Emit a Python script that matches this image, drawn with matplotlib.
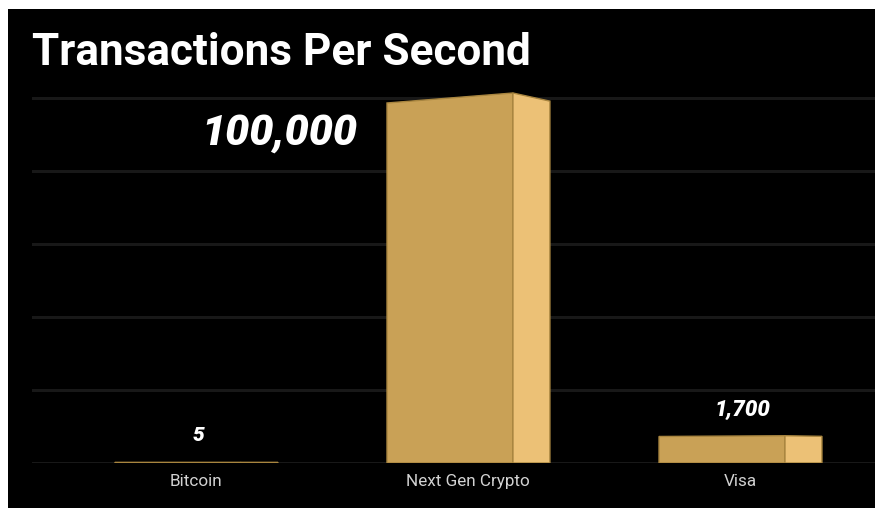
import matplotlib
matplotlib.use("Agg")
import matplotlib.pyplot as plt
from matplotlib.patches import Rectangle, Polygon
import numpy as np

categories = ["Bitcoin", "Next Gen Crypto", "Visa"]
values = [5, 100000, 1700]
value_labels = ["5", "100,000", "1,700"]
title = "Transactions Per Second"

P = 0.64
fwd = lambda v: np.sign(v) * np.abs(v) ** P
inv = lambda t: np.sign(t) * np.abs(t) ** (1.0 / P)

W, H = 875, 508
fig = plt.figure(figsize=(W / 100, H / 100), dpi=100, facecolor="white")
fig.patches.append(Rectangle((8 / W, -0.01), 1.02, 1.01 - 9 / H, transform=fig.transFigure,
                             facecolor="black", edgecolor="none", zorder=-5))

base_px = 463
top_px = 85
ax = fig.add_axes([32 / W, (H - base_px) / H, 1 - 32 / W, (base_px - top_px) / H])
ax.set_zorder(2)
ax.set_facecolor("none")
ax.set_yscale("function", functions=(fwd, inv))
tmax = fwd(max(values))
px_per_t = 370 / tmax
ax.set_ylim(0, inv((base_px - top_px) / px_per_t))
ax.set_xlim(-0.603, 2.496)

for s in ax.spines.values():
    s.set_visible(False)
ax.set_yticks([])
ax.minorticks_off()

# gridlines
for k in range(6):
    ax.axhline(inv(k * 73 / px_per_t), color="#181818", lw=2.2, zorder=1)

front_c = "#c9a156"
side_c = "#ecc176"
edge_c = "#a8853f"
fl, fr, sr = -0.298, 0.165, 0.301

for i, v in enumerate(values):
    t = fwd(v)
    tl = inv(t * 0.973)
    tsr = inv(t * 0.978)
    front = Polygon([(i + fl, 0), (i + fr, 0), (i + fr, v), (i + fl, tl)], closed=True,
                    facecolor=front_c, edgecolor=edge_c, lw=1.0, zorder=3)
    side = Polygon([(i + fr, 0), (i + sr, 0), (i + sr, tsr), (i + fr, v)], closed=True,
                   facecolor=side_c, edgecolor=edge_c, lw=1.0, zorder=3)
    ax.add_patch(front)
    ax.add_patch(side)

# value labels
for i, (v, lab) in enumerate(zip(values, value_labels)):
    if v == max(values):
        ax.annotate(lab, xy=(i + fl, v), xytext=(-30, -40), textcoords="offset pixels",
                    ha="right", va="center", color="white", fontsize=31,
                    fontweight="black", fontstyle="italic", family="Roboto")
    else:
        ax.annotate(lab, xy=(i + 0.01, v), xytext=(0, 27), textcoords="offset pixels",
                    ha="center", va="center", color="white", fontsize=16 if v > 100 else 15,
                    fontweight="black", fontstyle="italic", family="Roboto")

ax.set_xticks(range(len(categories)))
ax.set_xticklabels(categories, color="#d2d2d2", fontsize=12.3, family="Roboto")
ax.tick_params(axis="x", length=0, pad=8)

fig.text(32 / W, (H - 65) / H, title, color="white", fontsize=31.8, fontweight="bold",
         family="Roboto", ha="left", va="baseline")

fig.savefig("out.png", dpi=100, facecolor="white")
